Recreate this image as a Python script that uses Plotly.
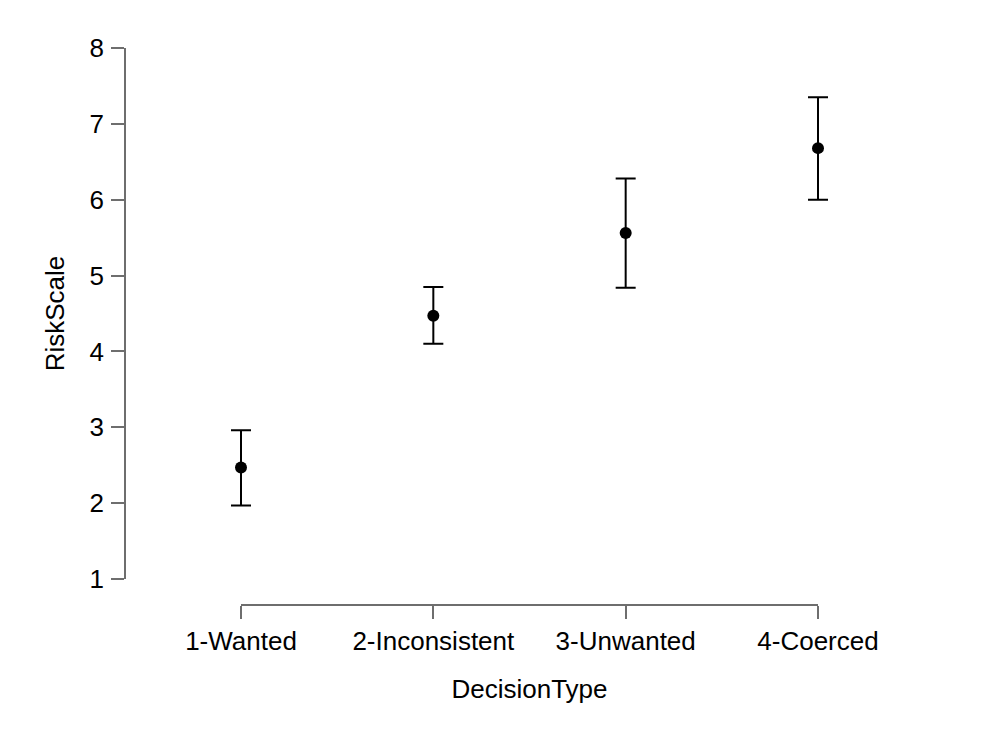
import plotly.graph_objects as go

# decision types and the RiskScale means with their interval ends
decision_types = ['1-Wanted', '2-Inconsistent', '3-Unwanted', '4-Coerced']
risk_mean = [2.47, 4.47, 5.56, 6.68]
risk_upper = [2.96, 4.85, 6.28, 7.35]
risk_lower = [1.97, 4.10, 4.84, 6.00]
y_ticks = [1, 2, 3, 4, 5, 6, 7, 8]

W, H = 1000, 739
OFF = 8  # page body margin, the figure starts 8px in
font = "Liberation Sans, Arial, sans-serif"
axis_grey = '#6e6e6e'
fs = 26

err_plus = [u - m for u, m in zip(risk_upper, risk_mean)]
err_minus = [m - l for m, l in zip(risk_mean, risk_lower)]


def px_x(p):
    return (p - OFF) / W


def px_y(p):
    return 1 - (p - OFF) / H


fig = go.Figure()
# points + intervals on a wide hidden x axis so the caps are not clipped
fig.add_trace(go.Scatter(
    x=decision_types, y=risk_mean, mode='markers',
    marker={'color': 'black', 'size': 12},
    error_y={'type': 'data', 'array': err_plus, 'arrayminus': err_minus,
             'color': 'black', 'thickness': 2, 'width': 10},
    cliponaxis=False, showlegend=False, xaxis='x', yaxis='y',
))
# invisible copy that draws the R-style x axis between the outer ticks
fig.add_trace(go.Scatter(
    x=decision_types, y=risk_mean, mode='markers',
    marker={'opacity': 0}, hoverinfo='skip', showlegend=False,
    xaxis='x2', yaxis='y',
))

axis_style = dict(
    showline=True, linecolor=axis_grey, linewidth=1.5,
    ticks='outside', ticklen=13, tickcolor=axis_grey, tickwidth=1.5,
    showgrid=False, zeroline=False, automargin=False,
    tickfont={'size': fs},
)

x0, x1 = px_x(241), px_x(818)
step = (x1 - x0) / 3

fig.update_layout(
    width=W, height=H,
    margin={'l': 0, 'r': 0, 't': 0, 'b': 0},
    paper_bgcolor='white', plot_bgcolor='rgba(0,0,0,0)',
    font={'family': font, 'color': 'black', 'size': fs},
    xaxis={
        'type': 'category', 'range': [-0.6, 3.6],
        'domain': [x0 - 0.6 * step, x1 + 0.6 * step],
        'visible': False, 'anchor': 'y',
    },
    xaxis2={
        'type': 'category', 'range': [0, 3],
        'domain': [x0, x1],
        'anchor': 'free', 'position': px_y(605),
        **axis_style,
        'title': {'text': 'DecisionType', 'font': {'size': fs}, 'standoff': 24},
    },
    yaxis={
        'range': [1, 8], 'tickvals': y_ticks,
        'domain': [px_y(579), px_y(48)],
        'anchor': 'free', 'position': px_x(125),
        **axis_style,
        'ticklabelstandoff': 2,
        'title': {'text': 'RiskScale', 'font': {'size': fs}, 'standoff': 16},
    },
)

fig.write_html("out.html")
